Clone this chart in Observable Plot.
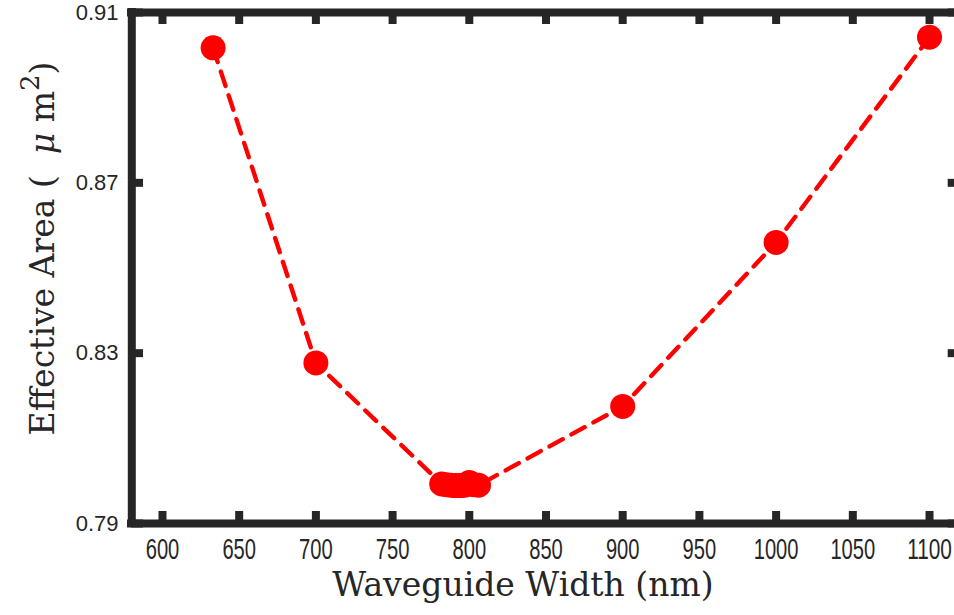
<!DOCTYPE html>
<html><head><meta charset="utf-8">
<script src="https://cdn.jsdelivr.net/npm/d3@7"></script>
<script src="https://cdn.jsdelivr.net/npm/@observablehq/plot@0.6"></script>
<style>html,body{margin:0;padding:0;background:#fff} #chart svg{display:block}</style>
</head><body><div id="chart"></div>
<script>
// Data
const widths = [633, 700, 782, 785, 788, 791, 794, 797, 800, 803, 806, 900, 1000, 1100];
const areas  = [0.9017, 0.8277, 0.7993, 0.7991, 0.7990, 0.7989, 0.7989, 0.7990, 0.7996, 0.7991, 0.7990, 0.8175, 0.8560, 0.9042];
const xTicks = [600, 650, 700, 750, 800, 850, 900, 950, 1000, 1050, 1100];
const yTicks = [0.79, 0.83, 0.87, 0.91];
const yTickLabels = ["0.79", "0.83", "0.87", "0.91"];
const xDomain = [580, 1120];
const yDomain = [0.79, 0.91];
const xTitle = "Waveguide Width (nm)";
const yTitleParts = ["Effective Area (  ", "\u03bc", " m", "2", ")"];

const data = widths.map((w, i) => ({w, a: areas[i]}));
const yLab = yTicks.map((v, i) => ({v, t: yTickLabels[i]}));
const ink = "#262626";
const red = "#ff0000";
const titleFont = "'DejaVu Serif', serif";
const tickFont = "'Liberation Sans', Arial, sans-serif";

const plot = Plot.plot({
  width: 954, height: 615,
  marginLeft: 131, marginRight: 0, marginTop: 12, marginBottom: 92,
  style: {fontFamily: tickFont, color: ink, background: "#fff", overflow: "hidden"},
  x: {domain: xDomain, range: [131.3, 959.7], axis: null},
  y: {domain: yDomain, axis: null},
  marks: [
    Plot.line(data, {x: "w", y: "a", stroke: red, strokeWidth: 4.4, strokeDasharray: "15,10"}),
    Plot.dot(data, {x: "w", y: "a", r: 12.5, fill: red, stroke: "none"}),
    Plot.ruleX(xDomain, {stroke: ink, strokeWidth: 8, strokeLinecap: "square"}),
    Plot.ruleY(yDomain, {stroke: ink, strokeWidth: 8, strokeLinecap: "square"}),
    Plot.tickX(xTicks, {x: d => d, insetTop: 499, stroke: ink, strokeWidth: 8}),
    Plot.tickX(xTicks, {x: d => d, insetBottom: 499, stroke: ink, strokeWidth: 8}),
    Plot.tickY(yTicks, {y: d => d, insetRight: 811, stroke: ink, strokeWidth: 8}),
    Plot.tickY(yTicks, {y: d => d, insetLeft: 816.7, stroke: ink, strokeWidth: 8}),
    Plot.text(xTicks, {x: d => d, text: d => String(d), frameAnchor: "bottom", dy: 26, lineAnchor: "middle", textAnchor: "middle", fontSize: 29, fontFamily: tickFont, fill: ink}),
    Plot.text(yLab, {y: "v", text: "t", frameAnchor: "left", dx: -13, lineAnchor: "middle", textAnchor: "end", fontSize: 22, fontFamily: tickFont, fill: ink}),
    Plot.text([xTitle], {text: d => d, frameAnchor: "bottom", dx: -20, dy: 62, lineAnchor: "middle", textAnchor: "middle", fontSize: 33, fontFamily: titleFont, fill: ink}),
    Plot.text([yTitleParts.join("")], {text: d => d, frameAnchor: "left", rotate: -90, dx: -88, dy: -19.5, lineAnchor: "middle", textAnchor: "middle", fontSize: 33, fontFamily: titleFont, fill: ink})
  ]
});
document.getElementById("chart").appendChild(plot);

const svg = d3.select(plot);
// x tick labels in the reference are narrow and tall: condense them horizontally
const xSet = new Set(xTicks.map(String));
svg.selectAll("text").each(function() {
  const t = this.textContent;
  if (xSet.has(t)) {
    this.setAttribute("textLength", 11.2 * t.length);
    this.setAttribute("lengthAdjust", "spacingAndGlyphs");
  }
});
// y title: italic mu and raised 2
svg.selectAll("text").filter(function() { return this.textContent === yTitleParts.join(""); }).each(function() {
  const el = d3.select(this);
  el.text(null);
  el.append("tspan").text(yTitleParts[0]);
  el.append("tspan").attr("font-style", "italic").text(yTitleParts[1]);
  el.append("tspan").text(yTitleParts[2]);
  el.append("tspan").attr("baseline-shift", "super").attr("font-size", "26").text(yTitleParts[3]);
  el.append("tspan").text(yTitleParts[4]);
});
</script>
</body></html>
